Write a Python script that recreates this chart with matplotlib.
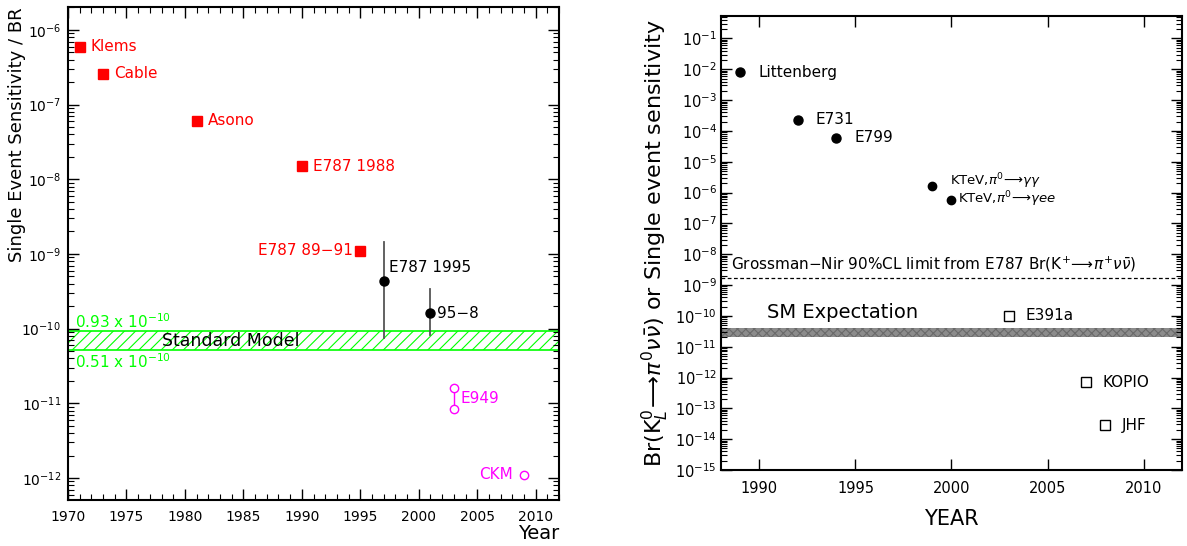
import numpy as np
import matplotlib
matplotlib.use("Agg")
import matplotlib.pyplot as plt
from matplotlib.ticker import NullFormatter, FixedLocator

plt.rcParams["font.family"] = ["DejaVu Sans"]
plt.rcParams["mathtext.fontset"] = "dejavusans"
plt.rcParams["hatch.linewidth"] = 0.8

# ---- left panel data: K+ -> pi+ nu nubar ----
red_names = ["Klems", "Cable", "Asono", "E787 1988", "E787 89\u221291"]
red_years = [1971, 1973, 1981, 1990, 1995]
red_ses = [6.0e-7, 2.6e-7, 6.1e-8, 1.5e-8, 1.1e-9]

meas_names = ["E787 1995", "95\u22128"]
meas_years = [1997, 2001]
meas_br = [4.3e-10, 1.6e-10]
meas_lo = [7.6e-11, 8.1e-11]
meas_hi = [1.45e-9, 3.4e-10]

e949_year = 2003
e949_ses = [1.58e-11, 8.3e-12]
ckm_year = 2009
ckm_ses = 1.1e-12

sm_lo, sm_hi = 0.51e-10, 0.93e-10

# ---- right panel data: KL -> pi0 nu nubar ----
past_names = ["Littenberg", "E731", "E799"]
past_years = [1989, 1992, 1994]
past_ses = [8.0e-3, 2.3e-4, 6.0e-5]

ktev_names = [r"KTeV,$\pi^0\!\longrightarrow\!\gamma\gamma$", r"KTeV,$\pi^0\!\longrightarrow\!\gamma ee$"]
ktev_years = [1999, 2000]
ktev_ses = [1.6e-6, 5.9e-7]

future_names = ["E391a", "KOPIO", "JHF"]
future_years = [2003, 2007, 2008]
future_ses = [1.0e-10, 7.0e-13, 2.8e-14]

gn_limit = 1.7e-9
sm2_lo, sm2_hi = 2.0e-11, 4.2e-11

RED = "#ff0000"
GREEN = "#00ff00"
MAG = "#ff00ff"

fig = plt.figure(figsize=(11.87, 5.46), dpi=100)


def style_axes(ax):
    ax.tick_params(which="both", direction="in", top=True, right=True, colors="black")
    ax.tick_params(which="major", length=8, width=1)
    ax.tick_params(which="minor", length=4, width=0.8)
    for s in ax.spines.values():
        s.set_linewidth(1.5)


def log_ticks(lo, hi):
    # decade ticks and 2..9 minor ticks, only inside [lo, hi]
    major, minor = [], []
    for e in range(int(np.floor(np.log10(lo))), int(np.ceil(np.log10(hi))) + 1):
        if lo <= 10.0 ** e <= hi:
            major.append(10.0 ** e)
        for m in range(2, 10):
            v = m * 10.0 ** e
            if lo <= v <= hi:
                minor.append(v)
    return major, minor


# ================= left panel =================
ax1 = fig.add_axes([0.0573, 0.0842, 0.4137, 0.903])
ax1.set_yscale("log")
y1lim = (5.07e-13, 2.03e-6)
ax1.set_xlim(1970, 2012)
ax1.set_ylim(*y1lim)
ax1.xaxis.set_major_locator(FixedLocator(list(range(1970, 2011, 5))))
ax1.xaxis.set_minor_locator(FixedLocator(list(range(1970, 2013))))
maj, mnr = log_ticks(*y1lim)
ax1.yaxis.set_major_locator(FixedLocator(maj))
ax1.yaxis.set_minor_locator(FixedLocator(mnr))
ax1.yaxis.set_minor_formatter(NullFormatter())
style_axes(ax1)
ax1.tick_params(axis="x", which="major", labelsize=10, pad=7)
ax1.tick_params(axis="y", which="major", labelsize=10, pad=5)

ax1.axhspan(sm_lo, sm_hi, facecolor="none", edgecolor=GREEN, hatch="///", linewidth=1.2)
ax1.text(1970.6, 1.25e-10, r"0.93 x 10$^{-10}$", color=GREEN, fontsize=11, va="center")
ax1.text(1970.6, 3.6e-11, r"0.51 x 10$^{-10}$", color=GREEN, fontsize=11, va="center")
ax1.text(1978.0, 6.9e-11, "Standard Model", color="black", fontsize=12.5, va="center")

ax1.plot(red_years, red_ses, "s", color=RED, markersize=6.5, linestyle="none")
for i, (n, x, y) in enumerate(zip(red_names, red_years, red_ses)):
    if i == len(red_names) - 1:
        ax1.annotate(n, (x, y), xytext=(-5, 0), textcoords="offset points",
                     color=RED, fontsize=11, ha="right", va="center")
    else:
        ax1.annotate(n, (x, y), xytext=(8, 0), textcoords="offset points",
                     color=RED, fontsize=11, ha="left", va="center")

for n, x, y, lo, hi in zip(meas_names, meas_years, meas_br, meas_lo, meas_hi):
    ax1.plot([x, x], [lo, hi], color="#555555", linewidth=1.3)
    ax1.plot(x, y, "o", color="black", markersize=6.5)
ax1.annotate(meas_names[0], (meas_years[0], meas_br[0]), xytext=(4, 10),
             textcoords="offset points", fontsize=11, ha="left", va="center")
ax1.annotate(meas_names[1], (meas_years[1], meas_br[1]), xytext=(5, 0),
             textcoords="offset points", fontsize=11, ha="left", va="center")

ax1.plot([e949_year, e949_year], e949_ses, "-o", color=MAG, markerfacecolor="white",
         markeredgecolor=MAG, markersize=6, linewidth=1)
ax1.annotate("E949", (e949_year, np.sqrt(e949_ses[0] * e949_ses[1])), xytext=(5, 0),
             textcoords="offset points", color=MAG, fontsize=11, ha="left", va="center")
ax1.plot(ckm_year, ckm_ses, "o", color=MAG, markerfacecolor="white", markersize=6)
ax1.annotate("CKM", (ckm_year, ckm_ses), xytext=(-8, 0), textcoords="offset points",
             color=MAG, fontsize=11, ha="right", va="center")

ax1.set_ylabel("Single Event Sensitivity / BR", fontsize=13)
ax1.yaxis.set_label_coords(-0.086, 0.74)
ax1.text(1.0, -0.067, "Year", transform=ax1.transAxes, ha="right", va="center", fontsize=14)

# ================= right panel =================
ax2 = fig.add_axes([0.6074, 0.1392, 0.3884, 0.8315])
ax2.set_yscale("log")
y2lim = (1e-15, 10 ** -0.27)
ax2.set_xlim(1988, 2012)
ax2.set_ylim(*y2lim)
ax2.xaxis.set_major_locator(FixedLocator(list(range(1990, 2011, 5))))
maj2, mnr2 = log_ticks(*y2lim)
ax2.yaxis.set_major_locator(FixedLocator(maj2))
ax2.yaxis.set_minor_locator(FixedLocator(mnr2))
ax2.yaxis.set_minor_formatter(NullFormatter())
style_axes(ax2)
ax2.tick_params(axis="both", which="major", labelsize=10.5)
ax2.tick_params(axis="y", which="major", pad=3)
ax2.tick_params(axis="x", which="major", pad=8)

ax2.axhline(gn_limit, color="black", linestyle=(0, (3, 2)), linewidth=0.9)
ax2.text(1988.5, gn_limit * 1.3,
         r"Grossman$-$Nir 90%CL limit from E787 Br(K$^{+}\!\longrightarrow\!\pi^{+}\nu\bar{\nu}$)",
         fontsize=11, ha="left", va="bottom")
ax2.axhspan(sm2_lo, sm2_hi, facecolor="#8c8c8c", edgecolor="#6a6a6a", hatch="xxxx", linewidth=0)
ax2.text(1990.4, 6.3e-11, "SM Expectation", fontsize=14, ha="left", va="bottom")

ax2.plot(past_years, past_ses, "o", color="black", markersize=6.5)
for n, x, y in zip(past_names, past_years, past_ses):
    ax2.annotate(n, (x, y), xytext=(13, 0), textcoords="offset points",
                 fontsize=11, ha="left", va="center")

ax2.plot(ktev_years, ktev_ses, "o", color="black", markersize=6)
ax2.annotate(ktev_names[0], (ktev_years[0], ktev_ses[0]), xytext=(13, 4), textcoords="offset points",
             fontsize=9.5, ha="left", va="center")
ax2.annotate(ktev_names[1], (ktev_years[1], ktev_ses[1]), xytext=(5, 0), textcoords="offset points",
             fontsize=9.5, ha="left", va="center")

ax2.plot(future_years, future_ses, "s", color="black", markerfacecolor="white",
         markersize=7, markeredgewidth=1)
for n, x, y in zip(future_names, future_years, future_ses):
    ax2.annotate(n, (x, y), xytext=(12, 0), textcoords="offset points",
                 fontsize=11, ha="left", va="center")

ax2.set_ylabel(r"Br(K$_L^0\!\longrightarrow\!\pi^0\nu\bar{\nu}$) or Single event sensitivity",
               fontsize=16, labelpad=3)
ax2.set_xlabel("YEAR", fontsize=15, labelpad=9)

fig.savefig("out.png", dpi=100)
